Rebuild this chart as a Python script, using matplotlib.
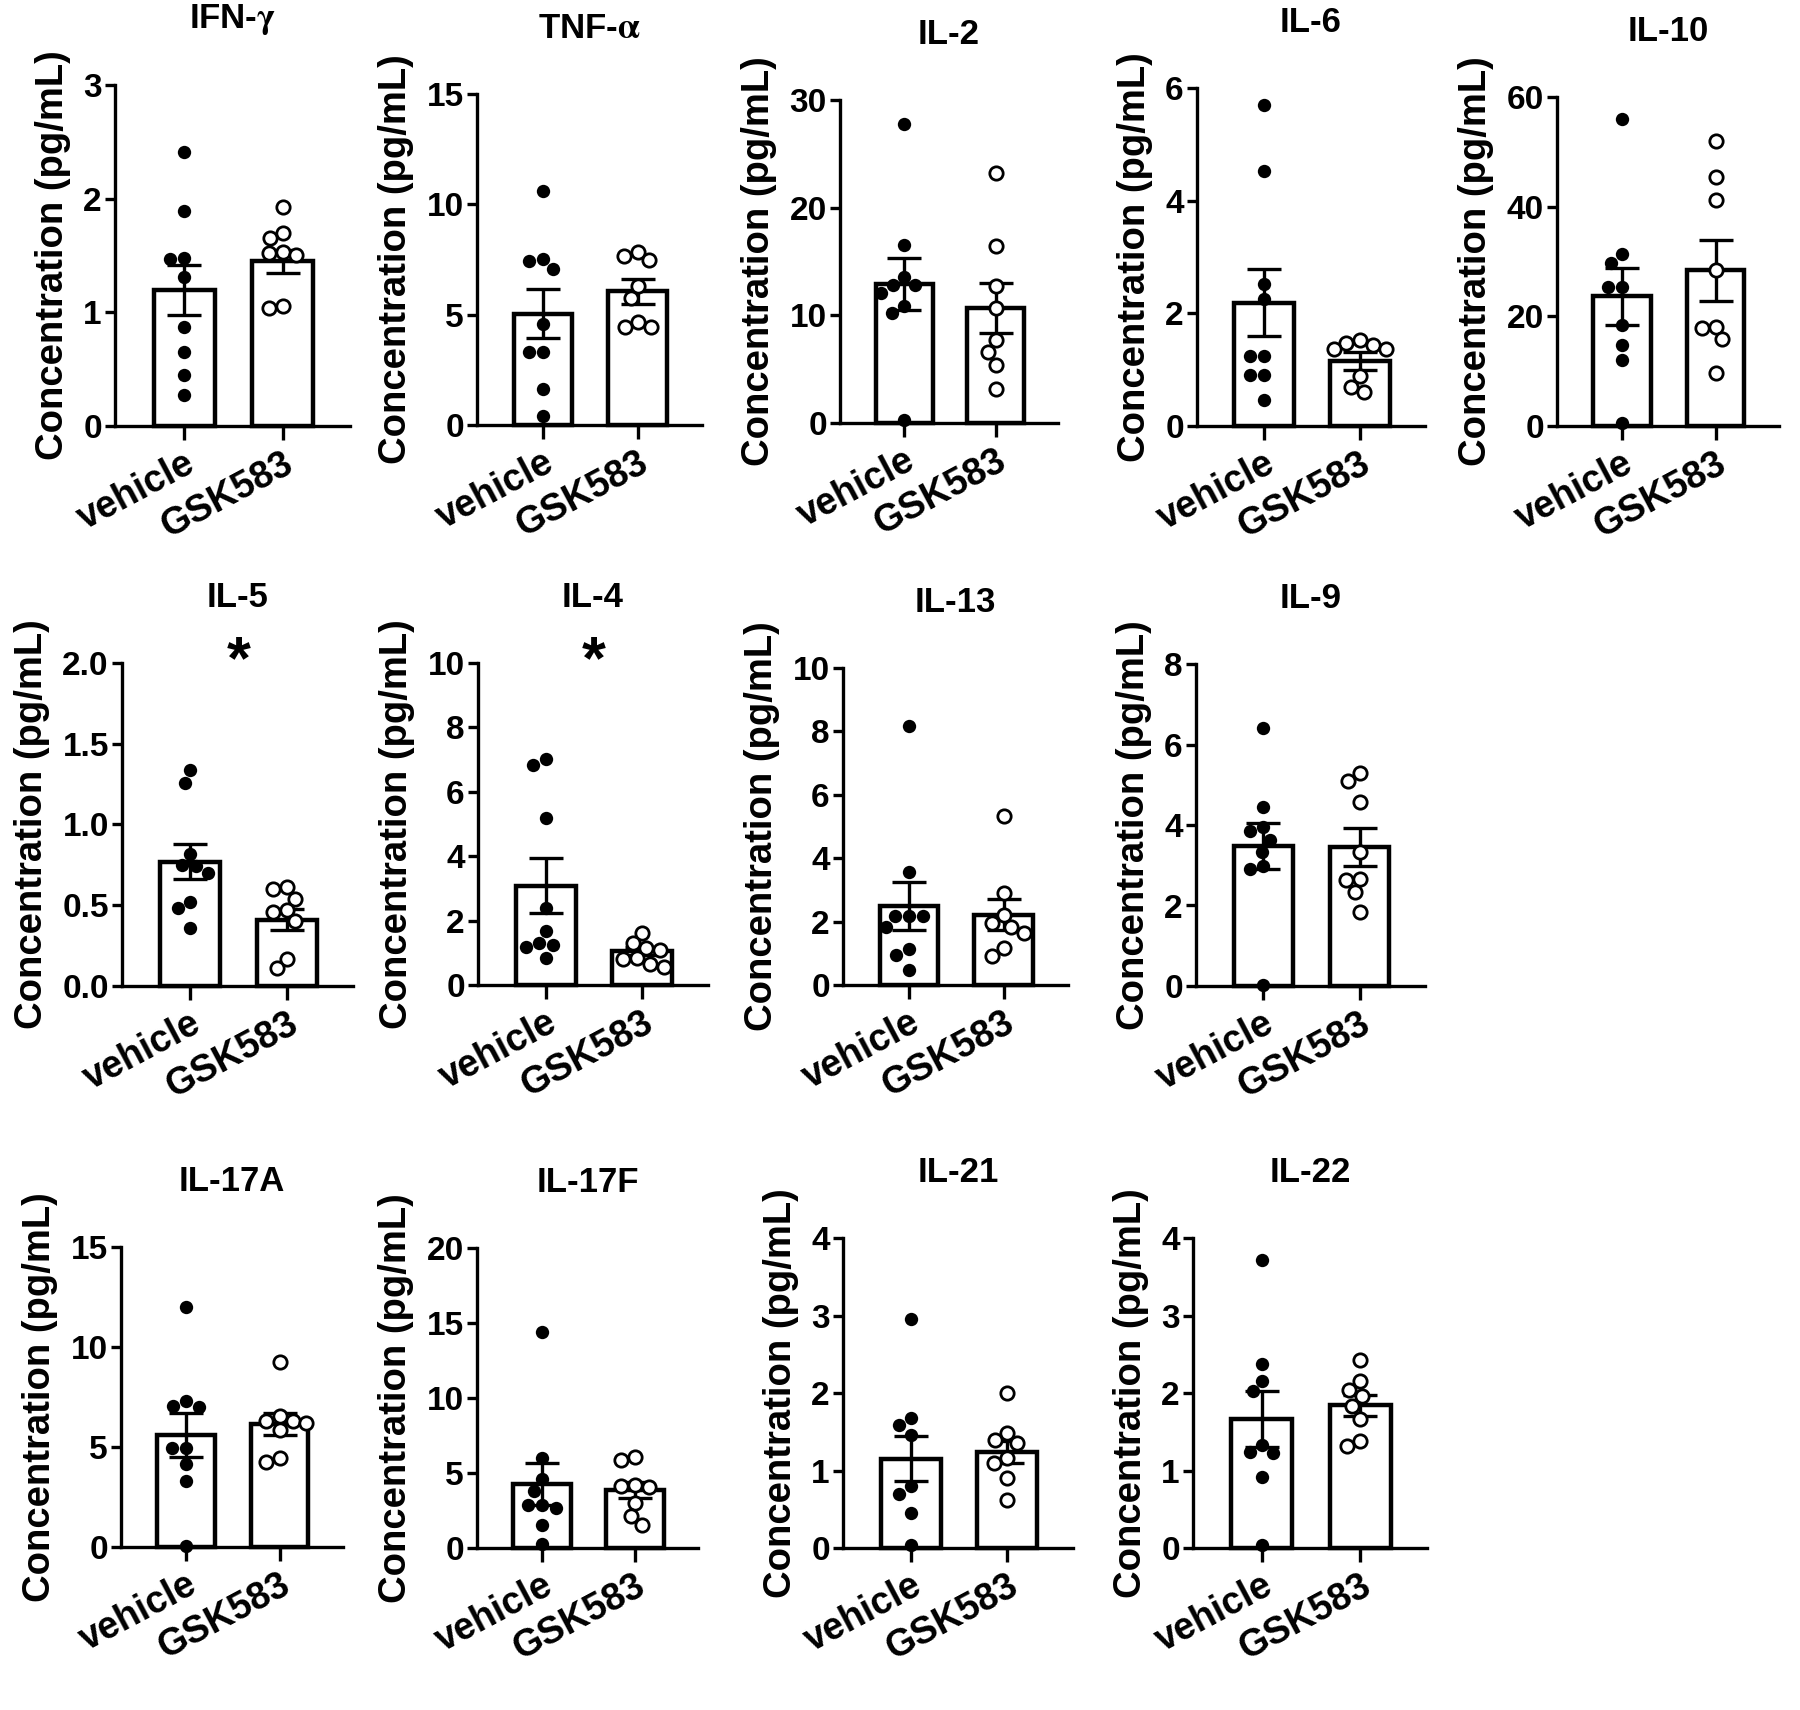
import numpy as np
import matplotlib
matplotlib.use("Agg")
import matplotlib.pyplot as plt
from matplotlib.transforms import blended_transform_factory

plt.rcParams['font.family'] = ['Liberation Sans', 'DejaVu Sans']
plt.rcParams['font.weight'] = 'bold'
plt.rcParams['mathtext.fontset'] = 'stix'

groups = ['vehicle', 'GSK583']

# values (pg/mL): points, bar means, SEM
ifng_veh = [2.41, 1.89, 1.48, 1.47, 1.31, 0.87, 0.65, 0.45, 0.27]
ifng_gsk = [1.93, 1.70, 1.65, 1.53, 1.52, 1.50, 1.06, 1.04]
ifng_mean = [1.20, 1.45]
ifng_sem = [0.22, 0.10]

tnf_veh = [10.6, 7.53, 7.44, 7.06, 4.57, 3.33, 3.33, 1.62, 0.41]
tnf_gsk = [7.86, 7.67, 7.49, 6.31, 5.75, 4.69, 4.46, 4.46]
tnf_mean = [5.05, 6.05]
tnf_sem = [1.10, 0.55]

il2_veh = [27.8, 16.5, 13.6, 12.8, 12.8, 12.1, 10.9, 10.2, 0.3]
il2_gsk = [23.2, 16.4, 12.7, 10.7, 7.7, 6.6, 5.4, 3.2]
il2_mean = [12.9, 10.7]
il2_sem = [2.45, 2.30]

il6_veh = [5.70, 4.52, 2.52, 2.26, 1.24, 1.24, 0.91, 0.91, 0.46]
il6_gsk = [1.52, 1.47, 1.44, 1.36, 1.36, 0.89, 0.70, 0.61]
il6_mean = [2.19, 1.16]
il6_sem = [0.60, 0.16]

il10_veh = [56.0, 31.4, 29.8, 25.4, 25.4, 18.4, 14.8, 12.0, 0.6]
il10_gsk = [52.0, 45.4, 41.2, 28.4, 18.1, 17.8, 15.8, 9.6]
il10_mean = [23.7, 28.4]
il10_sem = [5.2, 5.6]

il5_veh = [1.34, 1.26, 0.82, 0.75, 0.74, 0.70, 0.52, 0.48, 0.36]
il5_gsk = [0.61, 0.60, 0.54, 0.47, 0.46, 0.40, 0.17, 0.11]
il5_mean = [0.77, 0.41]
il5_sem = [0.11, 0.065]

il4_veh = [7.02, 6.84, 5.20, 2.38, 1.69, 1.30, 1.24, 1.19, 0.85]
il4_gsk = [1.63, 1.30, 1.16, 1.09, 0.83, 0.80, 0.64, 0.57]
il4_mean = [3.08, 1.05]
il4_sem = [0.85, 0.12]

il13_veh = [8.16, 3.58, 2.19, 2.18, 2.17, 1.84, 1.13, 0.95, 0.47]
il13_gsk = [5.34, 2.89, 2.21, 1.95, 1.84, 1.63, 1.16, 0.92]
il13_mean = [2.50, 2.22]
il13_sem = [0.76, 0.48]

il9_veh = [6.40, 4.44, 3.94, 3.86, 3.63, 3.34, 2.98, 2.90, 0.02]
il9_gsk = [5.28, 5.09, 4.58, 3.34, 2.66, 2.64, 2.33, 1.85]
il9_mean = [3.48, 3.46]
il9_sem = [0.57, 0.47]

il17a_veh = [12.0, 7.30, 7.03, 7.01, 4.97, 4.95, 4.13, 3.31, 0.03]
il17a_gsk = [9.24, 6.55, 6.31, 6.29, 6.21, 5.85, 4.43, 4.23]
il17a_mean = [5.62, 6.14]
il17a_sem = [1.10, 0.55]

il17f_veh = [14.4, 6.0, 4.6, 3.82, 2.90, 2.88, 2.67, 1.56, 0.27]
il17f_gsk = [6.07, 5.89, 4.17, 4.15, 4.07, 3.0, 2.11, 1.56]
il17f_mean = [4.30, 3.88]
il17f_sem = [1.40, 0.55]

il21_veh = [2.95, 1.68, 1.59, 1.46, 0.80, 0.70, 0.45, 0.04]
il21_gsk = [2.0, 1.48, 1.40, 1.35, 1.16, 1.10, 0.90, 0.62]
il21_mean = [1.15, 1.24]
il21_sem = [0.29, 0.14]

il22_veh = [3.72, 2.37, 2.16, 2.02, 1.33, 1.24, 1.22, 0.92, 0.04]
il22_gsk = [2.43, 2.15, 2.04, 1.96, 1.83, 1.66, 1.38, 1.31]
il22_mean = [1.66, 1.84]
il22_sem = [0.36, 0.14]

# panel layout in pixels: left, right, top, bottom of the axes box
W, H = 1800, 1710
panels = [
    ('IFN-$\\mathrm{\\gamma}$', ifng_veh, ifng_gsk, ifng_mean, ifng_sem, [0, 1, 2, 3], False, (115, 350, 85, 426)),
    ('TNF-$\\mathrm{\\alpha}$', tnf_veh, tnf_gsk, tnf_mean, tnf_sem, [0, 5, 10, 15], False, (477, 702, 94, 425)),
    ('IL-2', il2_veh, il2_gsk, il2_mean, il2_sem, [0, 10, 20, 30], False, (840, 1058, 100, 423)),
    ('IL-6', il6_veh, il6_gsk, il6_mean, il6_sem, [0, 2, 4, 6], False, (1197, 1425, 88, 426)),
    ('IL-10', il10_veh, il10_gsk, il10_mean, il10_sem, [0, 20, 40, 60], False, (1557, 1779, 97, 426)),
    ('IL-5', il5_veh, il5_gsk, il5_mean, il5_sem, [0.0, 0.5, 1.0, 1.5, 2.0], True, (122, 353, 663, 986)),
    ('IL-4', il4_veh, il4_gsk, il4_mean, il4_sem, [0, 2, 4, 6, 8, 10], True, (478, 708, 663, 985)),
    ('IL-13', il13_veh, il13_gsk, il13_mean, il13_sem, [0, 2, 4, 6, 8, 10], False, (843, 1068, 668, 985)),
    ('IL-9', il9_veh, il9_gsk, il9_mean, il9_sem, [0, 2, 4, 6, 8], False, (1196, 1425, 664, 986)),
    ('IL-17A', il17a_veh, il17a_gsk, il17a_mean, il17a_sem, [0, 5, 10, 15], False, (121, 343, 1247, 1547)),
    ('IL-17F', il17f_veh, il17f_gsk, il17f_mean, il17f_sem, [0, 5, 10, 15, 20], False, (477, 698, 1248, 1548)),
    ('IL-21', il21_veh, il21_gsk, il21_mean, il21_sem, [0, 1, 2, 3, 4], False, (843, 1073, 1238, 1548)),
    ('IL-22', il22_veh, il22_gsk, il22_mean, il22_sem, [0, 1, 2, 3, 4], False, (1193, 1427, 1238, 1548)),
]

MARKER_PX = 14.0  # dot diameter in pixels


def swarm_offsets(ax, xc, vals, d=MARKER_PX):
    # simple beeswarm: nudge points sideways so dots don't overlap
    pts = ax.transData.transform(np.column_stack([np.full(len(vals), xc), vals]))
    order = np.argsort(vals)[::-1]
    placed = []
    offs = np.zeros(len(vals))
    for i in order:
        py = pts[i, 1]
        blocked = []
        for (ox, oy) in placed:
            dy = abs(py - oy)
            if dy < d:
                dx = np.sqrt(d * d - dy * dy)
                blocked.append((ox - dx, ox + dx))
        cands = [0.0] + [e for bl in blocked for e in bl]
        cands = sorted(cands, key=lambda c: (abs(c), c))
        for c in cands:
            if all(not (lo + 1e-6 < c < hi - 1e-6) for lo, hi in blocked):
                offs[i] = c
                break
        placed.append((offs[i], py))
    x0 = ax.transData.transform((xc, 0))[0]
    x1 = ax.transData.transform((xc + 1, 0))[0]
    return offs / (x1 - x0)


fig = plt.figure(figsize=(W / 100, H / 100), dpi=100)

for title, veh, gsk, mean, sem, ticks, star, box in panels:
    l, r, t, b = box
    ax = fig.add_axes([l / W, 1 - b / H, (r - l) / W, (b - t) / H])
    ax.set_xlim(-0.7, 1.68)
    ax.set_ylim(0, ticks[-1])

    ax.bar([0, 1], mean, width=0.62, color='white', edgecolor='black',
           linewidth=3.2, zorder=2, clip_on=False)
    ax.errorbar([0, 1], mean, yerr=sem, fmt='none', ecolor='black',
                elinewidth=2.4, capsize=12, capthick=2.4, zorder=3)

    for k, (vals, filled) in enumerate([(veh, True), (gsk, False)]):
        vals = np.array(vals)
        xo = swarm_offsets(ax, k, vals)
        ax.plot(k + xo, vals, 'o', ms=9.6,
                mfc='black' if filled else 'white', mec='black',
                mew=0 if filled else 2.0, zorder=4, clip_on=False)

    ax.spines['top'].set_visible(False)
    ax.spines['right'].set_visible(False)
    for s in ('left', 'bottom'):
        ax.spines[s].set_linewidth(2.4)

    ax.set_yticks(ticks)
    if any(v != int(v) for v in ticks):
        ax.set_yticklabels(['%.1f' % v for v in ticks])
    else:
        ax.set_yticklabels(['%d' % v for v in ticks])
    ax.tick_params(axis='y', length=7.5, width=2.4, labelsize=24, pad=2)
    ax.tick_params(axis='x', length=10, width=2.4, labelsize=27, pad=4)
    ax.set_xticks([0, 1])
    ax.set_xticklabels(groups, rotation=28, ha='right', rotation_mode='anchor')
    ax.set_ylabel('Concentration (pg/mL)', fontsize=27.5, fontweight='bold', labelpad=9)

    ax.annotate(title, xy=(0.5, 1), xycoords='axes fraction', xytext=(0, 47),
                textcoords='offset points', ha='center', va='center',
                fontsize=25, fontweight='bold')

    if star:
        trans = blended_transform_factory(ax.transData, ax.transAxes)
        ax.text(0.5, 1.0, '*', transform=trans, ha='center', va='center',
                fontsize=44, fontweight='bold')

fig.savefig('out.png', dpi=100)
